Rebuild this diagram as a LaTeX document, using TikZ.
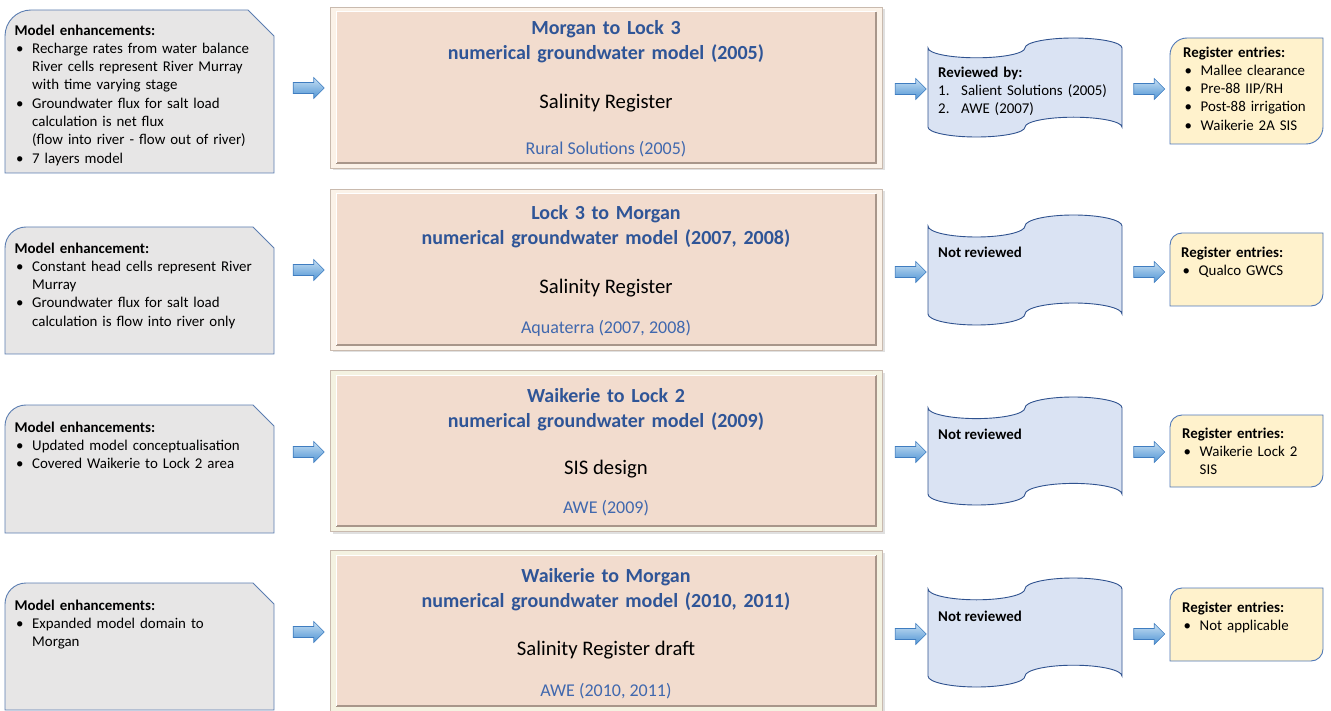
\documentclass[tikz,border=0pt]{standalone}
\usepackage{fontspec}
\setmainfont{Carlito}
\usetikzlibrary{shapes.arrows}
\definecolor{leftfill}{HTML}{E7E6E6}
\definecolor{leftdraw}{HTML}{5B7DB1}
\definecolor{midouter}{HTML}{FBF2E8}
\definecolor{midouterB}{HTML}{F4F2E1}
\definecolor{midinner}{HTML}{F2DCCE}
\definecolor{midedge}{HTML}{C9BAAE}
\definecolor{middark}{HTML}{A8968A}
\definecolor{titleblue}{HTML}{2F5597}
\definecolor{srcblue}{HTML}{4068AE}
\definecolor{revfill}{HTML}{DAE3F3}
\definecolor{revdraw}{HTML}{2F528F}
\definecolor{regfill}{HTML}{FFF2CC}
\definecolor{regdraw}{HTML}{4F78B8}
\definecolor{arrtop}{HTML}{C6DFF3}
\definecolor{arrbot}{HTML}{4F94D4}
\definecolor{arrdraw}{HTML}{3F7DC0}
\newcommand{\bitem}{\makebox[17.5pt][l]{\hspace{1.5pt}•}}
\newcommand{\bcont}{\hspace*{17.5pt}}
\newcommand{\numit}[1]{\makebox[23pt][l]{#1}}
\begin{document}
\begin{tikzpicture}[x=1pt,y=-1pt,
  bodyfont/.style={font=\fontsize{14.9}{18.3}\selectfont},
  lefttxt/.style={bodyfont, inner sep=0pt, anchor=north west, align=left, text width=255pt},
  revtxt/.style={bodyfont, inner sep=0pt, anchor=north west, align=left, text width=180pt},
  regtxt/.style={bodyfont, inner sep=0pt, anchor=north west, align=left, text width=140pt},
  notrev/.style={font=\fontsize{14.9}{18.3}\selectfont\bfseries, inner sep=0pt, anchor=base west},
  midtitle/.style={font=\fontsize{20}{25}\selectfont\bfseries, text=titleblue, inner sep=0pt, anchor=north, align=center, text width=530pt},
  midmain/.style={font=\fontsize{20.7}{24}\selectfont, inner sep=0pt, anchor=base},
  midsrc/.style={font=\fontsize{18}{21}\selectfont, text=srcblue, inner sep=0pt, anchor=base},
  leftbox/.style={fill=leftfill, draw=leftdraw, line width=0.9pt},
  revbox/.style={fill=revfill, draw=revdraw, line width=0.9pt},
  regbox/.style={fill=regfill, draw=regdraw, line width=0.9pt},
  blockarrow/.style={single arrow, single arrow head extend=5pt, single arrow tip angle=90,
    inner sep=5.2pt, minimum height=31pt, top color=arrtop, bottom color=arrbot, draw=arrdraw, line width=0.6pt}
]
\useasboundingbox (0,0) rectangle (1331,711);

% ---------- left boxes (snip + round single corner)
\foreach \ya/\yb/\r in {10/173/26, 227/354/21, 405/533/21, 583/710/21}{
  \draw[leftbox] (5,\yb) -- (5,\ya+\r) arc[start angle=180, end angle=270, radius=\r]
     -- (274-\r,\ya) -- (274,\ya+\r) -- (274,\yb) -- cycle;
}

% ---------- middle framed boxes
\foreach \y/\oc in {7/midouter, 189/midouter, 370/midouterB, 550/midouterB}{
  \fill[black, opacity=0.12] (332.5,\y+2.5) rectangle (884.5,\y+163.5);
  \draw[draw=midedge, fill=\oc, line width=0.7pt] (330,\y) rectangle (882,\y+161);
  \fill[midinner] (336,\y+5) rectangle (876,\y+156);
  \draw[middark, line width=1.3pt] (336,\y+156) -- (876,\y+156) -- (876,\y+5);
  \draw[white, line width=1pt] (336,\y+156) -- (336,\y+5) -- (876,\y+5);
}

% ---------- review (punched tape) shapes
\foreach \t/\h in {38/99, 215/110, 397/108, 578/109}{
  \pgfmathsetmacro{\a}{0.1*\h}
  \draw[revbox] (928,\t+\a)
     arc[start angle=180, end angle=0, x radius=48.5, y radius=\a]
     arc[start angle=180, end angle=360, x radius=48.5, y radius=\a]
     -- (1122,\t+\h-\a)
     arc[start angle=0, end angle=-180, x radius=48.5, y radius=\a]
     arc[start angle=0, end angle=180, x radius=48.5, y radius=\a]
     -- cycle;
}

% ---------- register boxes (round diagonal corners)
\foreach \ya/\yb/\r in {38/144/17, 233/306/12, 415/487/12, 588/661/12}{
  \draw[regbox] (1170,\ya+\r) arc[start angle=180, end angle=270, radius=\r]
     -- (1323,\ya) -- (1323,\yb-\r) arc[start angle=0, end angle=90, radius=\r]
     -- (1170,\yb) -- cycle;
}

% ---------- left texts
\node[lefttxt] (l1) at (14.5,22) {\strut\textbf{Model enhancements:}\\
\bitem Recharge rates from water balance\\
\bcont River cells represent River Murray\\
\bcont with time varying stage\\
\bitem Groundwater flux for salt load\\
\bcont calculation is net flux\\
\bcont (flow into river - flow out of river)\\
\bitem 7 layers model};
\node[lefttxt] (l2) at (14.5,240) {\strut\textbf{Model enhancement:}\\
\bitem Constant head cells represent River\\
\bcont Murray\\
\bitem Groundwater flux for salt load\\
\bcont calculation is flow into river only};
\node[lefttxt] (l3) at (14.5,419) {\strut\textbf{Model enhancements:}\\
\bitem Updated model conceptualisation\\
\bitem Covered Waikerie to Lock 2 area};
\node[lefttxt] (l4) at (14.5,597) {\strut\textbf{Model enhancements:}\\
\bitem Expanded model domain to\\
\bcont Morgan};

% ---------- middle texts
\node[midtitle] (m1t) at (606,17) {\strut Morgan to Lock 3\\numerical groundwater model (2005)};
\node[midmain] (m1m) at (606,108.7) {Salinity Register};
\node[midsrc] (m1s) at (606,154.8) {Rural Solutions (2005)};

\node[midtitle] (m2t) at (606,202) {\strut Lock 3 to Morgan\\numerical groundwater model (2007, 2008)};
\node[midmain] (m2m) at (606,293.7) {Salinity Register};
\node[midsrc] (m2s) at (606,333.8) {Aquaterra (2007, 2008)};

\node[midtitle] (m3t) at (606,385) {\strut Waikerie to Lock 2\\numerical groundwater model (2009)};
\node[midmain] (m3m) at (606,474.7) {SIS design};
\node[midsrc] (m3s) at (606,513.8) {AWE (2009)};

\node[midtitle] (m4t) at (606,565) {\strut Waikerie to Morgan\\numerical groundwater model (2010, 2011)};
\node[midmain] (m4m) at (606,655.7) {Salinity Register draft};
\node[midsrc] (m4s) at (606,696.8) {AWE (2010, 2011)};

% ---------- review texts
\node[revtxt] (r1) at (938,64) {\strut\textbf{Reviewed by:}\\
\numit{1.}Salient Solutions (2005)\\
\numit{2.}AWE (2007)};
\node[notrev] (r2) at (938,257.7) {Not reviewed};
\node[notrev] (r3) at (938,439.7) {Not reviewed};
\node[notrev] (r4) at (938,621.7) {Not reviewed};

% ---------- register texts
\node[regtxt] (g1) at (1183,44) {\strut\textbf{Register entries:}\\
\bitem Mallee clearance\\
\bitem Pre-88 IIP/RH\\
\bitem Post-88 irrigation\\
\bitem Waikerie 2A SIS};
\node[regtxt] (g2) at (1181,244) {\strut\textbf{Register entries:}\\
\bitem Qualco GWCS};
\node[regtxt] (g3) at (1182,425) {\strut\textbf{Register entries:}\\
\bitem Waikerie Lock 2\\
\bcont SIS};
\node[regtxt] (g4) at (1182,599) {\strut\textbf{Register entries:}\\
\bitem Not applicable};

% ---------- block arrows
\foreach \n/\y in {1/88, 2/270, 3/452, 4/632}{
  \node[blockarrow] (aL\n) at (306,\y) {};
}
\foreach \n/\y in {1/89, 2/272, 3/452, 4/634}{
  \node[blockarrow] (aM\n) at (908,\y) {};
  \node[blockarrow] (aR\n) at (1146.5,\y) {};
}
\end{tikzpicture}
\end{document}
